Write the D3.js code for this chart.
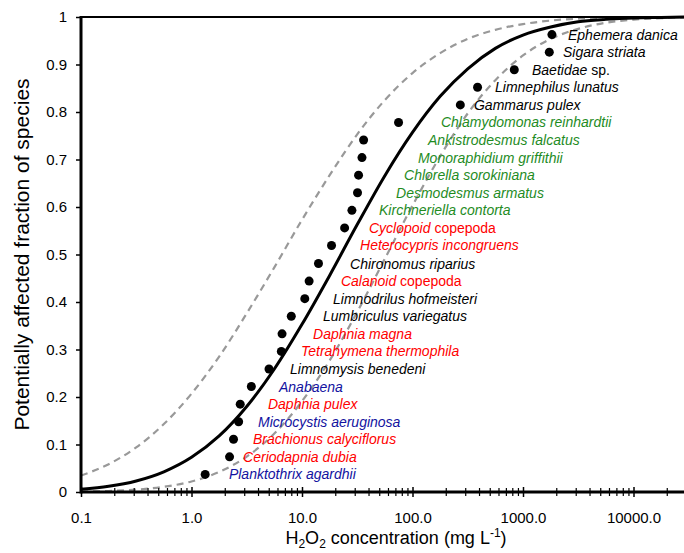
<!DOCTYPE html>
<html><head><meta charset="utf-8">
<script src="https://cdn.jsdelivr.net/npm/d3@7"></script>
<style>
html,body{margin:0;padding:0;background:#fff;}
svg{display:block;font-family:"Liberation Sans",Arial,sans-serif;}
</style></head>
<body><svg id="c" width="684" height="553"></svg>
<script>
// ---- data ----
const species = ["Planktothrix agardhii","Ceriodapnia dubia","Brachionus calyciflorus","Microcystis aeruginosa","Daphnia pulex","Anabaena","Limnomysis benedeni","Tetrahymena thermophila","Daphnia magna","Lumbriculus variegatus","Limnodrilus hofmeisteri","Calanoid copepoda","Chironomus riparius","Heterocypris incongruens","Cyclopoid copepoda","Kirchneriella contorta","Desmodesmus armatus","Chlorella sorokiniana","Monoraphidium griffithii","Ankistrodesmus falcatus","Chlamydomonas reinhardtii","Gammarus pulex","Limnephilus lunatus","Baetidae sp.","Sigara striata","Ephemera danica"];
const groups = ["cyano","invert","invert","cyano","invert","cyano","other","invert","invert","other","other","invert","other","invert","invert","alga","alga","alga","alga","alga","alga","other","other","other","other","other"];
const concentration = [1.33,2.21,2.40,2.67,2.76,3.48,5.03,6.5,6.6,8.0,10.6,11.6,14.1,18.5,24.3,28.3,31.8,32.5,34.9,36.1,74.8,271,388,834,1730,1827];
const fraction = [0.037,0.074,0.111,0.148,0.185,0.222,0.259,0.296,0.333,0.370,0.407,0.444,0.481,0.519,0.556,0.593,0.630,0.667,0.704,0.741,0.778,0.815,0.852,0.889,0.926,0.963];
// label start (concentration at which each label begins)
const labelStart = [2.18,2.93,3.60,4.0,4.92,6.19,7.79,9.79,12.6,15.5,19.1,22.5,27.2,33.5,40.4,49.8,71.0,83.8,112,138,181,360,558,1206,2301,2553];

const curveConc = [0.1,0.178,0.316,0.562,1,1.78,3.16,5.62,10,17.8,31.6,56.2,100,178,316,562,1000,1780,3160,5620,10000,17800,31600];
const fitSSD = [0.0057,0.0119,0.0232,0.0425,0.073,0.118,0.180,0.259,0.353,0.456,0.563,0.666,0.757,0.833,0.891,0.934,0.962,0.979,0.990,0.995,0.998,0.999,1.0];
const upperCI = [0.0346,0.0586,0.0939,0.143,0.207,0.285,0.376,0.473,0.573,0.667,0.753,0.825,0.882,0.924,0.954,0.973,0.985,0.9925,0.9964,0.9983,0.9993,0.9997,0.9999];
const lowerCI = [0.0008,0.0021,0.0049,0.0109,0.0222,0.0421,0.0745,0.123,0.191,0.277,0.379,0.491,0.603,0.707,0.797,0.867,0.919,0.954,0.975,0.988,0.9944,0.9976,0.999];

const xTicks = [0.1,1,10,100,1000,10000];
const yTicks = [0,0.1,0.2,0.3,0.4,0.5,0.6,0.7,0.8,0.9,1];

const groupColor = {cyano:"#1212a0", invert:"#ff0000", other:"#000000", alga:"#1f8c1f"};

// ---- layout ----
const svg = d3.select("#c");
const x = d3.scaleLog().domain([0.1,100000]).range([81,744]);
const y = d3.scaleLinear().domain([0,1]).range([492,17]);

const plot = svg.append("g");
svg.append("clipPath").attr("id","clip").append("rect").attr("x",81).attr("y",0).attr("width",700).attr("height",492);

const line = d3.line().x((d,i)=>x(curveConc[i])).y(d=>y(d)).curve(d3.curveMonotoneX);
const cg = plot.append("g").attr("clip-path","url(#clip)");
cg.append("path").attr("d",line(upperCI)).attr("fill","none").attr("stroke","#999").attr("stroke-width",2.2).attr("stroke-dasharray","7,5");
cg.append("path").attr("d",line(lowerCI)).attr("fill","none").attr("stroke","#999").attr("stroke-width",2.2).attr("stroke-dasharray","7,5");
cg.append("path").attr("d",line(fitSSD)).attr("fill","none").attr("stroke","#000").attr("stroke-width",3);

// dots
plot.selectAll("circle.pt").data(concentration).enter().append("circle")
  .attr("cx",d=>x(d)).attr("cy",(d,i)=>y(fraction[i])).attr("r",4.5).attr("fill","#000");

// labels
const labels = plot.selectAll("text.lab").data(species).enter().append("text")
  .attr("x",(d,i)=>x(labelStart[i])).attr("y",(d,i)=>y(fraction[i])+5)
  .attr("fill",(d,i)=>groupColor[groups[i]])
  .style("font-size","14px");
labels.each(function(d){
  const t = d3.select(this);
  const m = d.match(/^(.*?)\s(copepoda|sp\.)$/);
  if(m){
    t.append("tspan").style("font-style","italic").text(m[1]+" ");
    t.append("tspan").text(m[2]);
  } else {
    t.append("tspan").style("font-style","italic").text(d);
  }
});

// axes
const xAxis = svg.append("g").attr("transform","translate(0,492)")
  .call(d3.axisBottom(x).tickValues(xTicks).tickFormat(d3.format(".1f")).tickSize(5).tickPadding(15));
xAxis.select(".domain").remove();
xAxis.selectAll(".tick line").attr("y1",-5).attr("y2",5).attr("stroke-width",1.5);
xAxis.selectAll(".tick text").style("font-size","15px").style("font-family","Liberation Sans, Arial, sans-serif").attr("fill","#000");

const minors = [];
for(let e=-1;e<5;e++){for(let k=2;k<10;k++){minors.push(k*Math.pow(10,e));}}
const xMinor = svg.append("g").attr("transform","translate(0,492)")
  .call(d3.axisBottom(x).tickValues(minors).tickFormat("").tickSize(4));
xMinor.select(".domain").remove();
xMinor.selectAll(".tick line").attr("y1",-4).attr("y2",4).attr("stroke-width",1.2);

svg.append("line").attr("x1",81).attr("x2",684).attr("y1",492).attr("y2",492).attr("stroke","#000").attr("stroke-width",3);
svg.append("line").attr("x1",81).attr("x2",684).attr("y1",17).attr("y2",17).attr("stroke","#000").attr("stroke-width",2);

const yAxis = svg.append("g").attr("transform","translate(81,0)")
  .call(d3.axisLeft(y).tickValues(yTicks).tickFormat(d=>d===0||d===1?String(d):d3.format(".1f")(d)).tickSize(5).tickPadding(9));
yAxis.select(".domain").remove();
yAxis.selectAll(".tick line").attr("stroke-width",1.5);
yAxis.selectAll(".tick text").style("font-size","15px").style("font-family","Liberation Sans, Arial, sans-serif").attr("fill","#000");
svg.append("line").attr("x1",81).attr("x2",81).attr("y1",16).attr("y2",493.5).attr("stroke","#000").attr("stroke-width",3);

// titles
svg.append("text").attr("transform","translate(29,254.5) rotate(-90)").attr("text-anchor","middle")
  .style("font-size","21px").text("Potentially affected fraction of species");
const xt = svg.append("text").attr("x",396).attr("y",544).attr("text-anchor","middle").style("font-size","18px");
xt.append("tspan").text("H");
xt.append("tspan").attr("dy",4).style("font-size","12px").text("2");
xt.append("tspan").attr("dy",-4).text("O");
xt.append("tspan").attr("dy",4).style("font-size","12px").text("2");
xt.append("tspan").attr("dy",-4).text(" concentration (mg L");
xt.append("tspan").attr("dy",-7).style("font-size","12px").text("-1");
xt.append("tspan").attr("dy",7).text(")");
</script>
</body></html>
